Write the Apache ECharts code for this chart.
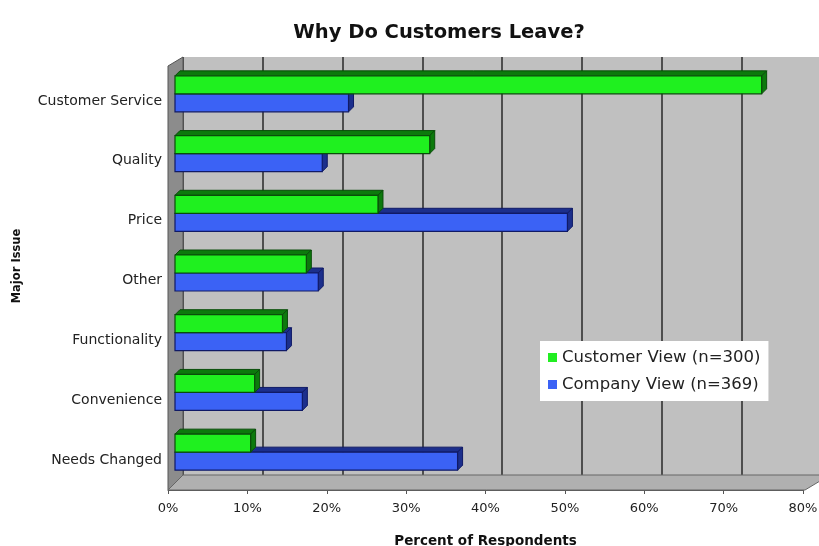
<!DOCTYPE html>
<html><head><meta charset="utf-8">
<script src="https://cdn.jsdelivr.net/npm/echarts@6/dist/echarts.min.js"></script>
<style>html,body{margin:0;padding:0;background:#fff}#c{width:819px;height:546px}</style>
</head><body><div id="c"></div>
<script>
const categories = ['Customer Service','Quality','Price','Other','Functionality','Convenience','Needs Changed'];
const customerView = [73.7, 32, 25.5, 16.5, 13.5, 10, 9.5];
const companyView = [21.8, 18.5, 49.3, 18, 14, 16, 35.5];
const seriesNames = ['Customer View (n=300)', 'Company View (n=369)'];
const xTicks = [0,10,20,30,40,50,60,70,80];

const FONT = 'DejaVu Sans';
const chart = echarts.init(document.getElementById('c'));
const xMax = xTicks[xTicks.length-1];
const xInt = xTicks[1]-xTicks[0];

function makeRender(slot, front, dark, edge) {
  return function (params, api) {
    const v = api.value(0), c = api.value(1);
    const p0 = api.coord([0, c]);
    const p1 = api.coord([v, c]);
    const barH = 18, d = 5;
    const y0 = p0[1] - barH + slot * barH - 1;
    const x0 = p0[0], x1 = p1[0];
    return {
      type: 'group',
      children: [
        {type: 'polygon', shape: {points: [[x0, y0], [x0 + d, y0 - d], [x1 + d, y0 - d], [x1, y0]]},
          style: {fill: dark, stroke: edge, lineWidth: 1}},
        {type: 'polygon', shape: {points: [[x1, y0], [x1 + d, y0 - d], [x1 + d, y0 + barH - d], [x1, y0 + barH]]},
          style: {fill: dark, stroke: edge, lineWidth: 1}},
        {type: 'rect', shape: {x: x0, y: y0, width: x1 - x0, height: barH},
          style: {fill: front, stroke: edge, lineWidth: 1.2}}
      ]
    };
  };
}

chart.setOption({
  backgroundColor: '#ffffff',
  animation: false,
  title: {
    text: 'Why Do Customers Leave?',
    left: 434, top: 18, textAlign: 'center',
    textStyle: {fontFamily: FONT, fontSize: 19.5, fontWeight: 'bold', color: '#111'}
  },
  legend: {
    orient: 'vertical', left: 540, top: 341,
    backgroundColor: '#ffffff', padding: [8, 8, 8, 8],
    itemWidth: 9, itemHeight: 9, itemGap: 10,
    icon: 'rect',
    data: seriesNames,
    textStyle: {fontFamily: FONT, fontSize: 16.5, color: '#222'}
  },
  graphic: [
    {type: 'polygon', z: 1, shape: {points: [[168,66],[183,57],[183,475],[168,490]]},
      style: {fill: '#8c8c8c', stroke: '#555', lineWidth: 1}},
    {type: 'polygon', z: 1, shape: {points: [[168,490],[183,475],[830,475],[805,490]]},
      style: {fill: '#b0b0b0', stroke: '#666', lineWidth: 1}}
  ],
  grid: [
    {left: 183, top: 57, width: 638.4, bottom: 71, show: true, backgroundColor: '#c0c0c0', borderWidth: 0, outerBoundsMode: 'none', containLabel: false},
    {left: 175, top: 65, width: 636.8, bottom: 63, outerBoundsMode: 'none', containLabel: false},
    {left: 168, top: 71, width: 635, bottom: 56, outerBoundsMode: 'none', containLabel: false}
  ],
  xAxis: [
    {gridIndex: 0, type: 'value', min: 0, max: xMax, interval: xInt,
      axisLabel: {show: false}, axisLine: {show: false}, axisTick: {show: false},
      splitLine: {show: true, lineStyle: {color: '#4e4e4e', width: 2}}},
    {gridIndex: 1, type: 'value', min: 0, max: xMax, interval: xInt, show: false},
    {gridIndex: 2, type: 'value', min: 0, max: xMax, interval: xInt,
      axisLine: {show: true, lineStyle: {color: '#555', width: 1}},
      axisTick: {show: true, inside: false, length: 4, lineStyle: {color: '#555'}},
      splitLine: {show: false},
      axisLabel: {formatter: '{value}%', margin: 12, fontFamily: FONT, fontSize: 13, color: '#222'},
      name: 'Percent of Respondents', nameLocation: 'middle', nameGap: 44,
      nameTextStyle: {fontFamily: FONT, fontSize: 13.5, fontWeight: 'bold', color: '#111'}}
  ],
  yAxis: [
    {gridIndex: 0, type: 'value', min: 0, max: 1,
      axisLine: {show: false}, axisTick: {show: false}, axisLabel: {show: false}, splitLine: {show: false},
      name: 'Major Issue', nameLocation: 'middle', nameGap: 160, nameRotate: 90,
      nameTextStyle: {fontFamily: FONT, fontSize: 11.5, fontWeight: 'bold', color: '#111'}},
    {gridIndex: 1, type: 'category', data: categories, inverse: true, show: false},
    {gridIndex: 2, type: 'category', data: categories, inverse: true,
      axisLine: {show: false}, axisTick: {show: false}, splitLine: {show: false},
      axisLabel: {margin: 6, fontFamily: FONT, fontSize: 14, color: '#222'}}
  ],
  series: [
    {name: seriesNames[0], type: 'custom', xAxisIndex: 1, yAxisIndex: 1, z: 4,
      data: customerView.map((v, i) => [v, i]), encode: {x: 0, y: 1},
      itemStyle: {color: '#22ee22', borderColor: '#0b5e0b'},
      renderItem: makeRender(0, '#1ff01f', '#0c7a0c', '#0a4d0a')},
    {name: seriesNames[1], type: 'custom', xAxisIndex: 1, yAxisIndex: 1, z: 3,
      data: companyView.map((v, i) => [v, i]), encode: {x: 0, y: 1},
      itemStyle: {color: '#3b62f5', borderColor: '#14207a'},
      renderItem: makeRender(1, '#3b62f5', '#1c2f8c', '#101a66')}
  ]
});
</script></body></html>
